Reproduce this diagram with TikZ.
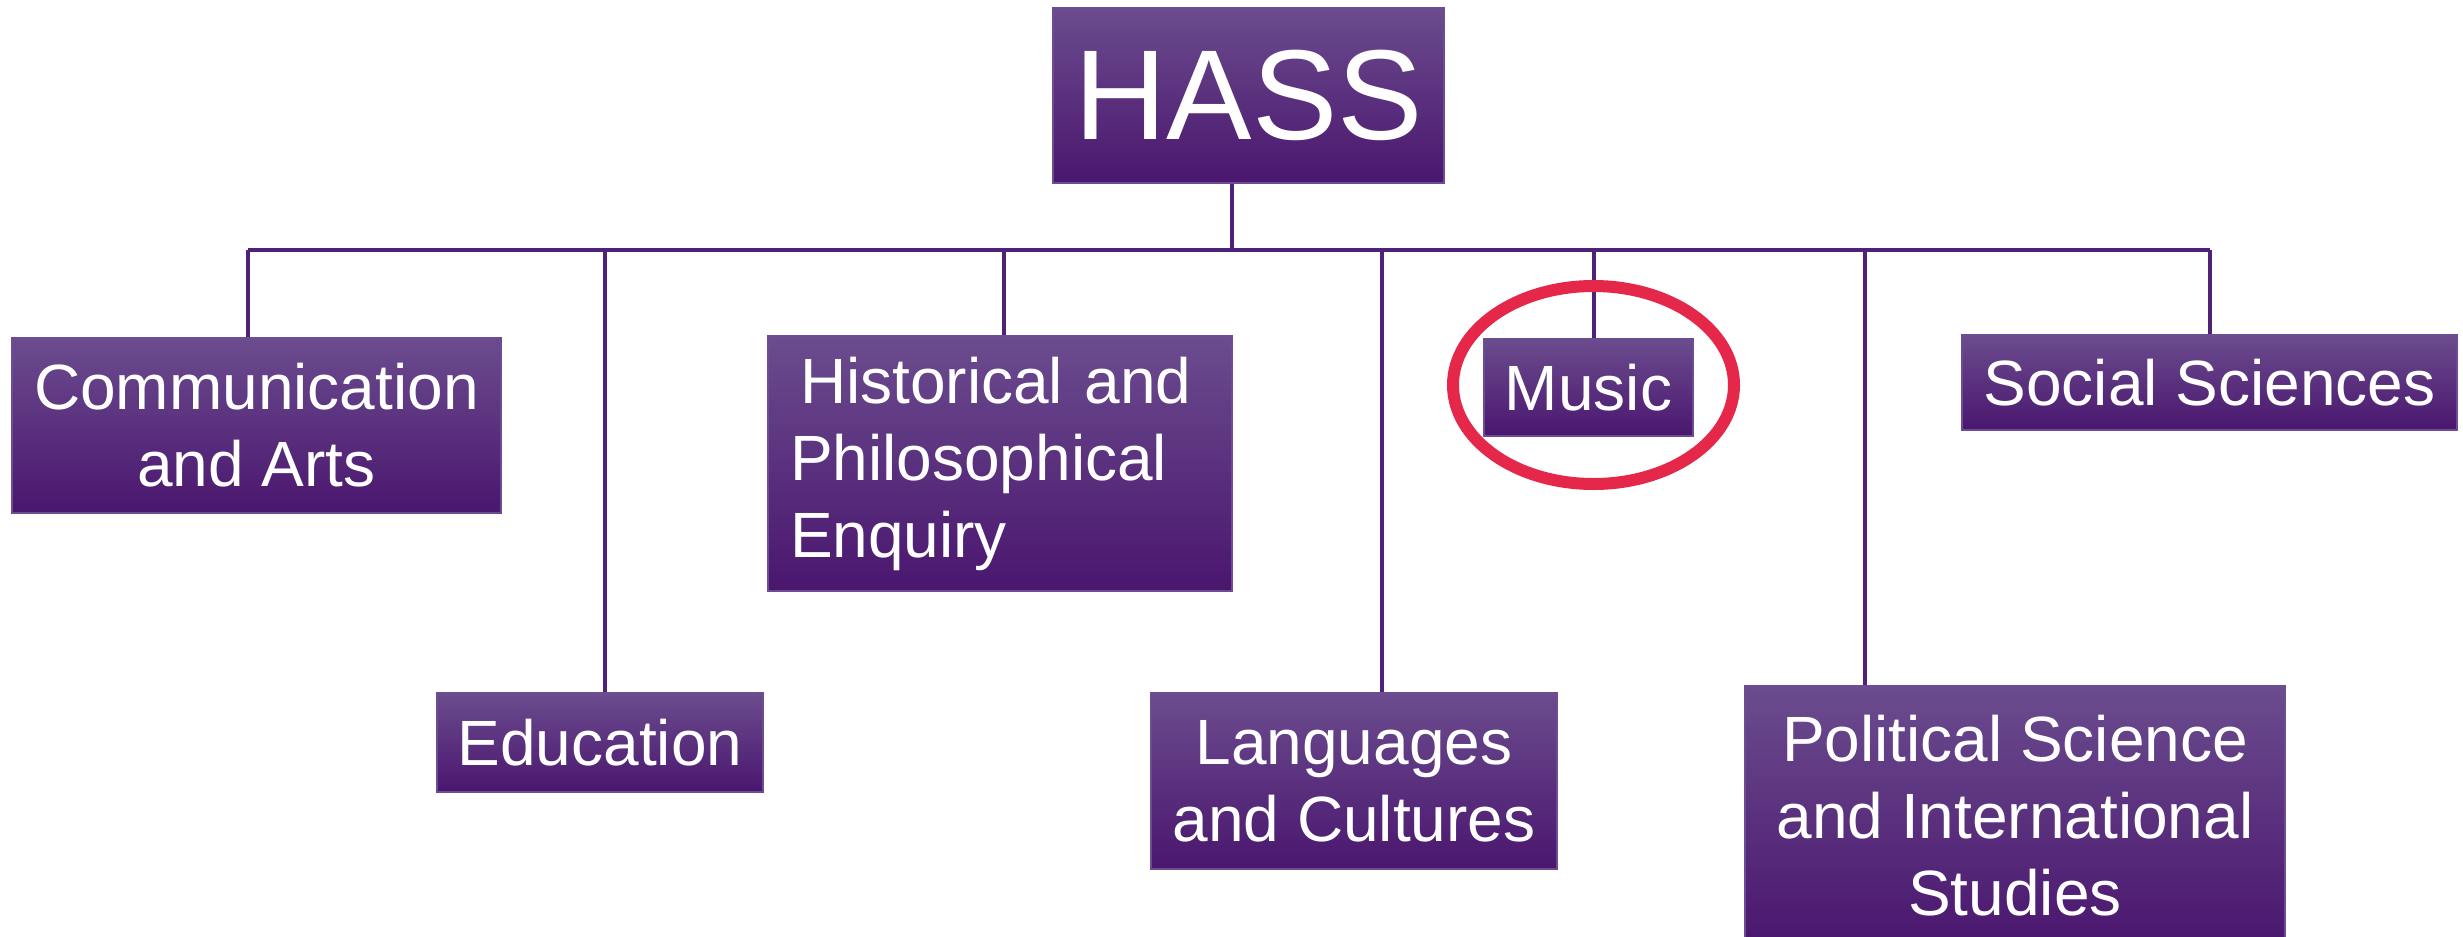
\documentclass[tikz,border=0pt]{standalone}
\usepackage{fontspec}
\usetikzlibrary{shapes.geometric}
\setmainfont{Liberation Sans}
\definecolor{boxtop}{HTML}{6B4C8E}
\definecolor{boxmid}{HTML}{53237D}
\definecolor{boxbot}{HTML}{4A166E}
\definecolor{boxline}{HTML}{6C4C94}
\definecolor{linkc}{HTML}{4F2178}
\definecolor{ringred}{HTML}{E5284A}
\tikzset{
  unit/.style={rectangle, draw=boxline, line width=1.5pt, top color=boxtop, middle color=boxmid, bottom color=boxbot,
    text=white, inner sep=0pt, align=center, font=\fontsize{64}{77}\selectfont},
  link/.style={draw=linkc, line width=3.5pt},
  ring/.style={draw=ringred, line width=12pt}
}
\begin{document}
\begin{tikzpicture}[x=1pt,y=-1pt]
\clip (0,0) rectangle (2463,937);
\fill[white] (0,0) rectangle (2463,937);
% junctions on the bus
\coordinate (jh) at (1232,250);
\coordinate (jc) at (248,250);
\coordinate (je) at (605,250);
\coordinate (jhi) at (1004,250);
\coordinate (jl) at (1382,250);
\coordinate (jm) at (1594,250);
\coordinate (jp) at (1865,250);
\coordinate (js) at (2210,250);
% boxes
\node[unit, minimum width=391pt, minimum height=175pt, font=\fontsize{128}{150}\selectfont] (hass) at (1248.5,95.5) {HASS};
\node[unit, minimum width=489pt, minimum height=175pt] (comm) at (256.5,425.5) {Communication\\and Arts};
\node[unit, minimum width=326pt, minimum height=99pt] (edu) at (600,742.5) {Education};
\node[unit, minimum width=464pt, minimum height=255pt, align=left, text width=420pt, inner xsep=22pt] (hist) at (1000,463.5) {\hspace*{10pt}Historical and\\Philosophical\\Enquiry};
\node[unit, minimum width=406pt, minimum height=176pt] (lang) at (1354,781) {Languages\\and Cultures};
\node[unit, minimum width=209pt, minimum height=97pt] (music) at (1588.5,387.5) {Music};
\node[unit, minimum width=495pt, minimum height=95pt] (soc) at (2209.5,382.5) {Social Sciences};
\node[unit, minimum width=540pt, minimum height=259pt] (pol) at (2015,815.5) {Political Science\\and International\\Studies};
% connectors
\draw[link] (jc) -- (js);
\draw[link] (hass.south -| jh) -- (jh);
\draw[link] (jc) -- (jc |- comm.north);
\draw[link] (je) -- (je |- edu.north);
\draw[link] (jhi) -- (jhi |- hist.north);
\draw[link] (jl) -- (jl |- lang.north);
\draw[link] (jm) -- (jm |- music.north);
\draw[link] (jp) -- (jp |- pol.north);
\draw[link] (js) -- (js |- soc.north);
% highlight ring
\node[ring, ellipse, minimum width=281pt, minimum height=198pt, inner sep=0pt] (hl) at (1593.5,385) {};
\end{tikzpicture}
\end{document}
